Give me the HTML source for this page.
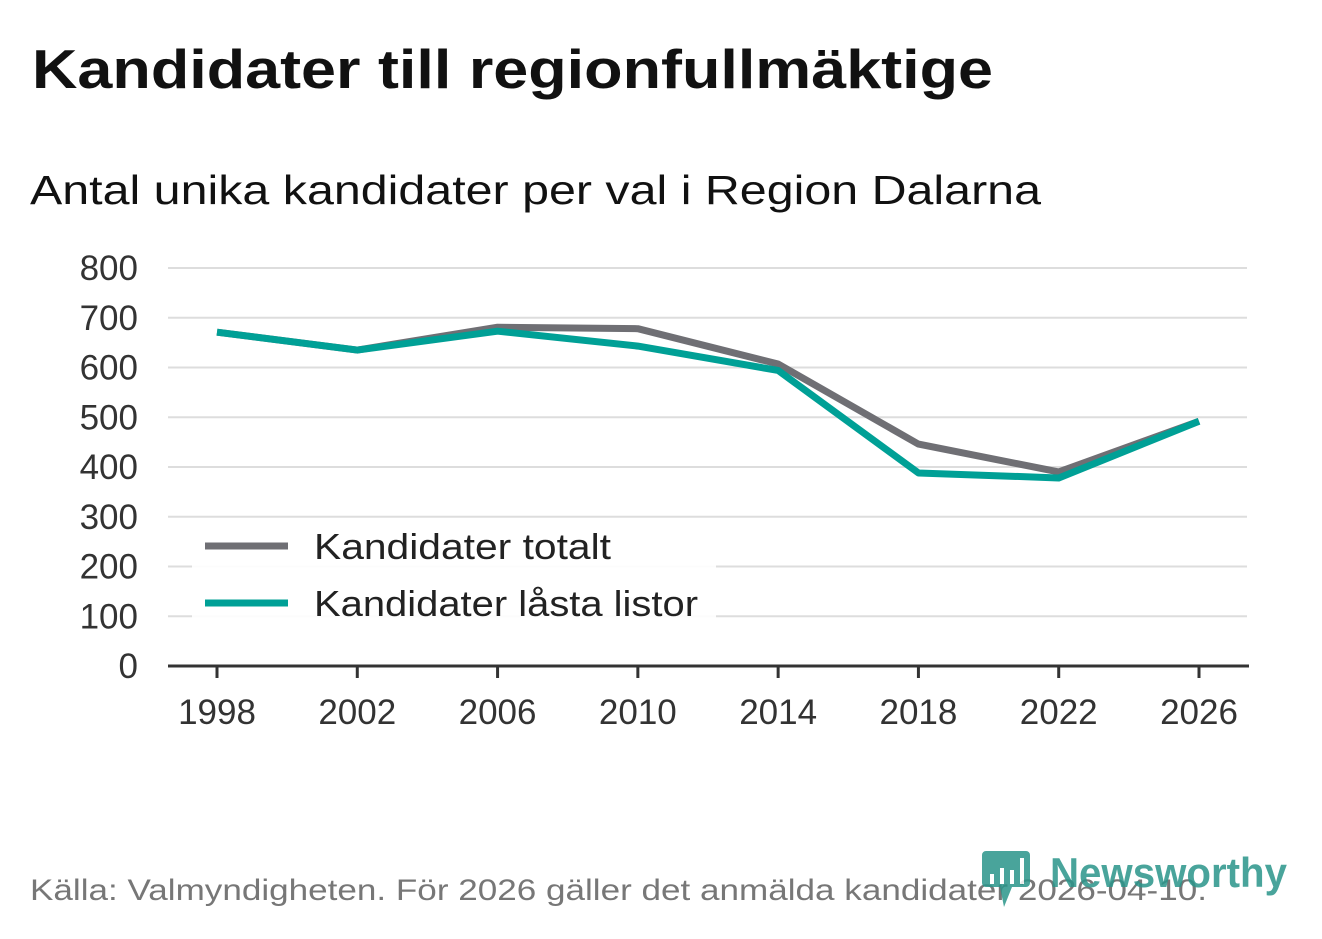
<!DOCTYPE html>
<html><head><meta charset="utf-8"><style>
body{margin:0;width:1322px;height:939px;background:#fff;overflow:hidden;font-family:"Liberation Sans","DejaVu Sans",sans-serif;}
svg{position:absolute;left:0;top:0}
</style></head><body>
<svg id="c" width="1322" height="939">
<text x="32" y="88" font-size="55" font-weight="bold" fill="#111" textLength="961" lengthAdjust="spacingAndGlyphs">Kandidater till regionfullmäktige</text>
<text x="30" y="204" font-size="41" fill="#111" textLength="1011" lengthAdjust="spacingAndGlyphs">Antal unika kandidater per val i Region Dalarna</text>
<g id="grid"></g><g id="lines"></g>
<g>
<rect x="192" y="518" width="524" height="108" fill="#fff" opacity="0.9"/>
<line x1="205" y1="546" x2="288" y2="546" stroke="#6f6f74" stroke-width="7"/>
<text x="314" y="559" font-size="36" fill="#222" textLength="297" lengthAdjust="spacingAndGlyphs">Kandidater totalt</text>
<line x1="205" y1="603" x2="288" y2="603" stroke="#00a096" stroke-width="7"/>
<text x="314" y="616" font-size="36" fill="#222" textLength="384" lengthAdjust="spacingAndGlyphs">Kandidater låsta listor</text>
</g>
<text x="30" y="900" font-size="30" fill="#777" textLength="1177" lengthAdjust="spacingAndGlyphs">Källa: Valmyndigheten. För 2026 gäller det anmälda kandidater 2026-04-10.</text>
<g opacity="0.85">
<path d="M986 851h40a4 4 0 0 1 4 4v28a4 4 0 0 1-4 4h-14l-8 20l-4-20h-14a4 4 0 0 1-4-4v-28a4 4 0 0 1 4-4z" fill="#2a958a"/>
<rect x="990" y="874" width="4" height="10" fill="#fff"/><rect x="1000" y="868" width="4" height="16" fill="#fff"/><rect x="1010" y="870" width="4" height="14" fill="#fff"/><rect x="1020" y="858" width="4" height="26" fill="#fff"/>
<text x="1050" y="887" font-size="42" font-weight="bold" fill="#2a958a" textLength="237" lengthAdjust="spacingAndGlyphs">Newsworthy</text>
</g>
</svg>
<script>
const years=[1998,2002,2006,2010,2014,2018,2022,2026];
const totalt=[671,635,681,678,607,446,390,492];
const lasta=[671,635,673,643,594,388,378,492];
const yTicks=[0,100,200,300,400,500,600,700,800];
const ns="http://www.w3.org/2000/svg";
const X=y=>217+(y-1998)*(1199-217)/28;
const Y=v=>666-v*(666-268)/800;
const grid=document.getElementById('grid'),lines=document.getElementById('lines');
function mk(t,a,p){const e=document.createElementNS(ns,t);for(const k in a)e.setAttribute(k,a[k]);p.appendChild(e);return e;}
yTicks.forEach(v=>{
 if(v>0){const l=mk('line',{x1:168,x2:1247,y1:Y(v),y2:Y(v),stroke:'#ddd','stroke-width':2},grid);
 
 }
 const t=mk('text',{x:138,y:Y(v)+12,'font-size':35,fill:'#333','text-anchor':'end'},grid);t.textContent=v;
 
 
});
const ax=mk('line',{x1:168,x2:1249,y1:666,y2:666,stroke:'#333','stroke-width':3},grid);


years.forEach(y=>{
 const tk=mk('line',{x1:X(y),x2:X(y),y1:666,y2:678,stroke:'#333','stroke-width':3},grid);
 
 
 const t=mk('text',{x:X(y),y:724,'font-size':35,fill:'#333','text-anchor':'middle'},grid);t.textContent=y;
 
 
});
[[totalt,'#6f6f74','line-totalt'],[lasta,'#00a096','line-lasta']].forEach(([d,c,n])=>{
 const p=mk('polyline',{points:d.map((v,i)=>X(years[i])+','+Y(v)).join(' '),fill:'none',stroke:c,'stroke-width':7,'stroke-linejoin':'round'},lines);
 
 
});
</script>
</body></html>
